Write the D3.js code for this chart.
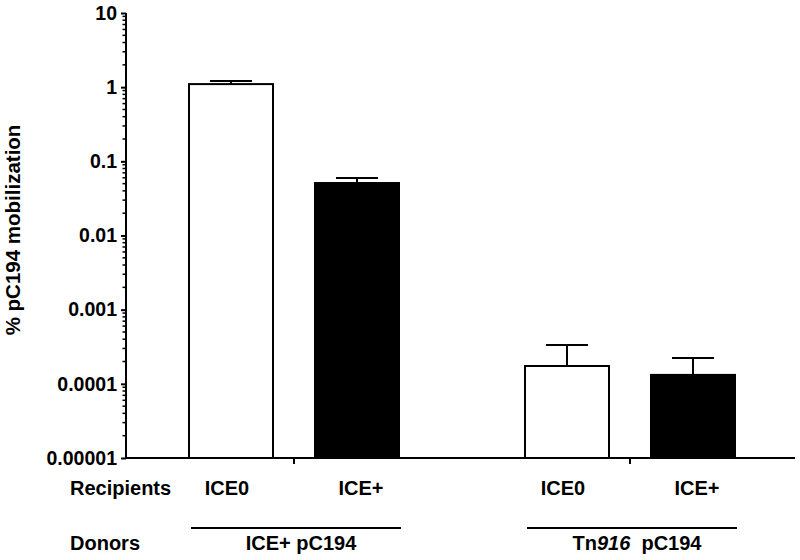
<!DOCTYPE html>
<html>
<head>
<meta charset="utf-8">
<script src="https://cdn.jsdelivr.net/npm/d3@7/dist/d3.min.js"></script>
<style>
  html, body { margin: 0; padding: 0; background: #fff; }
  svg { display: block; }
  text { font-family: "Liberation Sans", Arial, sans-serif; font-weight: bold; fill: #000; }
</style>
</head>
<body>
<svg id="chart" width="800" height="560"></svg>
<script>
// ---- data ----
const donors = ["ICE+ pC194", "Tn916 pC194"];
const recipients = ["ICE0", "ICE+"];
const fills = ["#ffffff", "#000000"];
// mean % mobilization, per donor group, per recipient
const meansICEpC194 = [1.1, 0.051];
const meansTn916pC194 = [0.000174, 0.000132];
// upper error (SEM)
const errsICEpC194 = [0.11, 0.0086];
const errsTn916pC194 = [0.00016, 0.000091];
const yTickValues = [0.00001, 0.0001, 0.001, 0.01, 0.1, 1, 10];
const yTickLabels = ["0.00001", "0.0001", "0.001", "0.01", "0.1", "1", "10"];

const means = [meansICEpC194, meansTn916pC194];
const errs = [errsICEpC194, errsTn916pC194];
const rows = [];
donors.forEach((d, gi) => recipients.forEach((r, ri) => {
  rows.push({ donor: d, recipient: r, ri, mean: means[gi][ri], err: errs[gi][ri] });
}));

// ---- layout ----
const svg = d3.select("#chart");
const x0 = 126, yTop = 13, yBottom = 458, xEnd = 795;

const y = d3.scaleLog().domain([0.00001, 10]).range([yBottom, yTop]);
const xGroup = d3.scaleBand().domain(donors).range([x0, 798]).paddingInner(0).paddingOuter(0);
const xInner = d3.scaleBand().domain(recipients).range([63, 273]).paddingInner(1/3).paddingOuter(0);

// bars
const bars = svg.append("g");
bars.selectAll("rect").data(rows).join("rect")
  .attr("x", d => xGroup(d.donor) + xInner(d.recipient))
  .attr("width", xInner.bandwidth())
  .attr("y", d => y(d.mean))
  .attr("height", d => yBottom - y(d.mean))
  .attr("fill", d => fills[d.ri])
  .attr("stroke", "#000")
  .attr("stroke-width", 2);

// error bars (upper only)
const capHalf = xInner.bandwidth() / 4;
const eb = svg.append("g").attr("stroke", "#000").attr("stroke-width", 2);
rows.forEach(d => {
  const cx = xGroup(d.donor) + xInner(d.recipient) + xInner.bandwidth() / 2;
  eb.append("line").attr("x1", cx).attr("x2", cx).attr("y1", y(d.mean)).attr("y2", y(d.mean + d.err));
  eb.append("line").attr("x1", cx - capHalf).attr("x2", cx + capHalf).attr("y1", y(d.mean + d.err)).attr("y2", y(d.mean + d.err));
});

// y axis
const yAxis = d3.axisLeft(y).tickValues(yTickValues)
  .tickFormat((d, i) => yTickLabels[i]).tickSize(5).tickPadding(4).tickSizeOuter(0);
const gy = svg.append("g").attr("transform", `translate(${x0},0)`).call(yAxis);
gy.select(".domain").attr("stroke-width", 2).attr("d", `M0,${yTop}V${yBottom}`);
gy.selectAll(".tick line").attr("stroke-width", 2);
gy.selectAll(".tick text").style("font-size", "19.5px").style("font-family", "'Liberation Sans', Arial, sans-serif").style("font-weight", "bold").attr("fill", "#000");

// minor ticks
const minor = [];
for (let e = -5; e < 1; e++) for (let m = 2; m <= 9; m++) minor.push(m * Math.pow(10, e));
gy.selectAll(".minor").data(minor).join("line").attr("class", "minor")
  .attr("x1", -3.5).attr("x2", 0).attr("y1", d => y(d)).attr("y2", d => y(d))
  .attr("stroke", "#000").attr("stroke-width", 1.5);

// x axis
const xAxis = d3.axisBottom(xGroup).tickSize(6).tickSizeOuter(0).tickFormat("");
const gx = svg.append("g").attr("transform", `translate(0,${yBottom})`).call(xAxis);
gx.select(".domain").attr("stroke-width", 2).attr("d", `M${x0 - 1},0H${xEnd}`);
gx.selectAll(".tick line").attr("stroke-width", 2);

// y title
svg.append("text")
  .attr("transform", `translate(20,230) rotate(-90)`)
  .attr("text-anchor", "middle")
  .style("font-size", "20.5px")
  .text("% pC194 mobilization");

// recipient labels
svg.append("text").attr("x", 70).attr("y", 495).style("font-size", "20px").text("Recipients");
svg.append("g").selectAll("text").data(rows).join("text")
  .attr("x", d => xGroup(d.donor) + xInner(d.recipient) + xInner.bandwidth() / 2 + (d.ri === 0 ? -4 : 4))
  .attr("y", 495).attr("text-anchor", "middle").style("font-size", "20px")
  .text(d => d.recipient);

// donor labels
svg.append("text").attr("x", 70).attr("y", 550).style("font-size", "20px").text("Donors");
const dg = svg.append("g");
donors.forEach(d => {
  const c = xGroup(d) + xGroup.bandwidth() / 2;
  dg.append("line").attr("x1", c - 103).attr("x2", c + 107).attr("y1", 528).attr("y2", 528)
    .attr("stroke", "#000").attr("stroke-width", 2);
  const t = dg.append("text").attr("x", c + 7).attr("y", 550).attr("text-anchor", "middle").style("font-size", "20px");
  if (d.startsWith("Tn916")) {
    t.append("tspan").text("Tn");
    t.append("tspan").style("font-style", "italic").text("916");
    t.append("tspan").text("\u00a0 pC194");
  } else {
    t.text(d);
  }
});
</script>
</body>
</html>
